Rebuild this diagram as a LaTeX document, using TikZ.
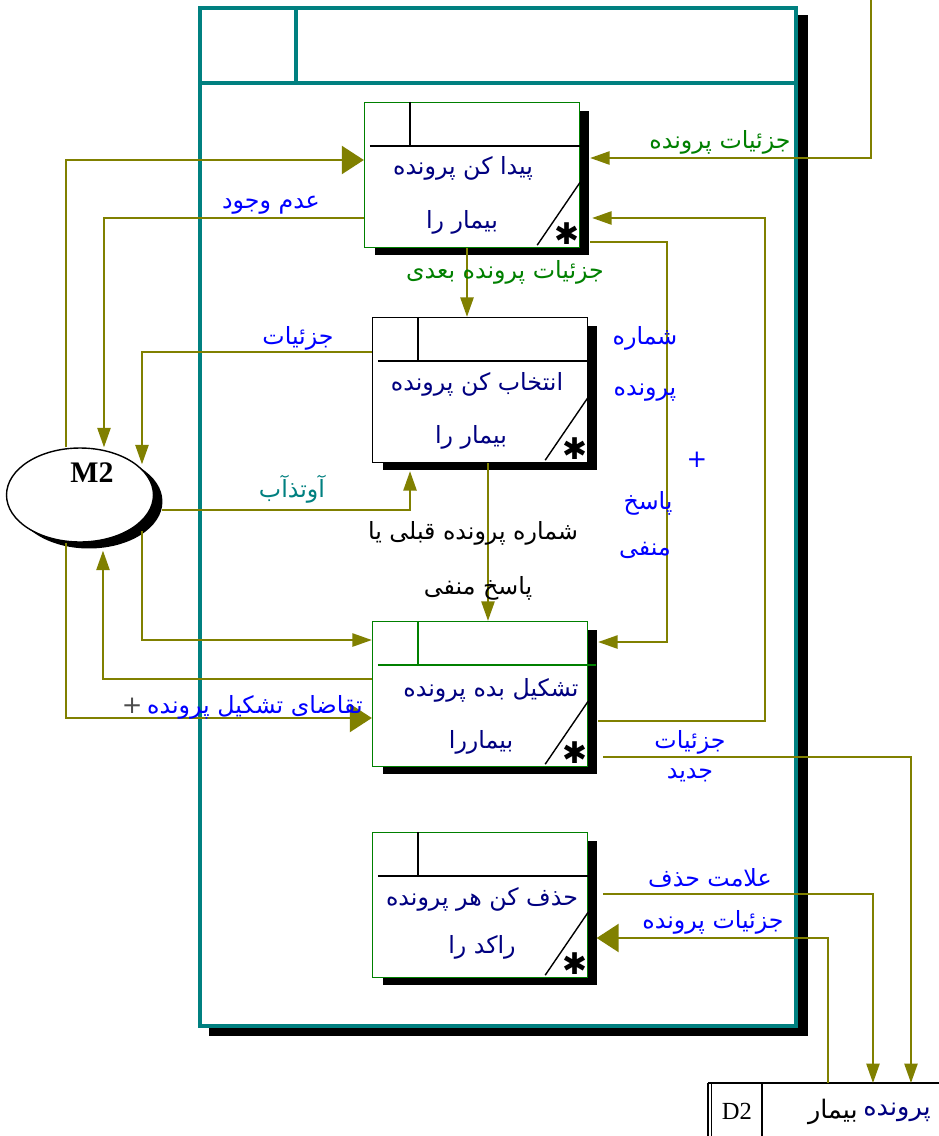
\documentclass[tikz,border=0pt]{standalone}
\usepackage{fontspec}
\setmainfont{Liberation Serif}
\newfontfamily\fa[Script=Arabic]{DejaVu Sans}
\newfontfamily\dv{DejaVu Sans}
\TeXXeTstate=1
\usetikzlibrary{arrows.meta,calc,shapes.geometric,shadows}
\definecolor{frameteal}{RGB}{0,128,128}
\definecolor{flowolive}{RGB}{128,128,0}
\definecolor{boxgreen}{RGB}{0,128,0}
\definecolor{txtnavy}{RGB}{0,0,128}
\definecolor{lblblue}{RGB}{0,0,255}
\newcommand\fatxt[1]{{\fa\beginR #1\endR}}
\tikzset{
  prc/.style={draw=boxgreen, fill=white, line width=0.8pt, minimum width=4.3cm, minimum height=2.9cm, inner sep=0pt,
    drop shadow={shadow xshift=.2cm, shadow yshift=-.16cm, fill=black, opacity=1}},
  flow/.style={draw=flowolive, line width=1pt},
  midtip/.style={-{Triangle[length=11pt,width=7.5pt]}},
  bigtip/.style={-{Triangle[length=12.5pt,width=16pt]}},
  boxtxt/.style={text=txtnavy, font=\fontsize{13.5}{13.5}\selectfont, inner sep=0pt},
  lbl/.style={text=lblblue, font=\fontsize{13.5}{13.5}\selectfont, inner sep=0pt},
  plus/.style={text=lblblue, font=\dv\fontsize{14}{14}\selectfont, inner sep=0pt},
  star/.style={inner sep=0pt, font=\dv\fontsize{17}{17}\selectfont}
}
\begin{document}
\begin{tikzpicture}[x=0.02cm, y=-0.02cm]
\useasboundingbox (0,0) rectangle (939,1136);
% frame of the diagram
\fill[black] (209,15) rectangle (808,1036);
\draw[frameteal, line width=2.8pt, fill=white] (200,8) rectangle (796,1026);
\draw[frameteal, line width=2.8pt] (200,83) -- (796,83);
\draw[frameteal, line width=2.8pt] (296,8) -- (296,83);

% processes
\node[prc] (b1) at (472,175) {};
\node[prc, draw=black] (b2) at (480,390) {};
\node[prc] (b3) at (480,694) {};
\node[prc] (b4) at (480,905) {};

\draw[line width=0.8pt] ($(b1.north west)+(6,44)$) -- ($(b1.north east)+(0,44)$);
\draw[line width=0.8pt] ($(b1.north west)+(46,0)$) -- ($(b1.north west)+(46,44)$);
\draw[line width=0.8pt] ($(b1.south east)+(-43,-3)$) -- ($(b1.south east)+(0,-66)$);
\node[star] (s1) at ($(b1.south east)+(-13,-15)$) {✱};

\draw[line width=0.8pt] ($(b2.north west)+(6,44)$) -- ($(b2.north east)+(0,44)$);
\draw[line width=0.8pt] ($(b2.north west)+(46,0)$) -- ($(b2.north west)+(46,44)$);
\draw[line width=0.8pt] ($(b2.south east)+(-43,-3)$) -- ($(b2.south east)+(0,-66)$);
\node[star] (s2) at ($(b2.south east)+(-13,-15)$) {✱};

\draw[boxgreen, line width=0.8pt] ($(b3.north west)+(6,44)$) -- ($(b3.north east)+(8,44)$);
\draw[boxgreen, line width=0.8pt] ($(b3.north west)+(46,0)$) -- ($(b3.north west)+(46,44)$);
\draw[line width=0.8pt] ($(b3.south east)+(-43,-3)$) -- ($(b3.south east)+(0,-66)$);
\node[star] (s3) at ($(b3.south east)+(-13,-15)$) {✱};

\draw[line width=0.8pt] ($(b4.north west)+(6,44)$) -- ($(b4.north east)+(0,44)$);
\draw[line width=0.8pt] ($(b4.north west)+(46,0)$) -- ($(b4.north west)+(46,44)$);
\draw[line width=0.8pt] ($(b4.south east)+(-43,-3)$) -- ($(b4.south east)+(0,-66)$);
\node[star] (s4) at ($(b4.south east)+(-13,-15)$) {✱};

\node[boxtxt] (t1a) at ($(b1.north)+(-9,67)$) {\fatxt{پیدا کن پرونده}};
\node[boxtxt] (t1b) at ($(b1.north)+(-10,121)$) {\fatxt{بیمار را}};
\node[boxtxt] (t2a) at ($(b2.north)+(-3,68)$) {\fatxt{انتخاب کن پرونده}};
\node[boxtxt] (t2b) at ($(b2.north)+(-9,121)$) {\fatxt{بیمار را}};
\node[boxtxt] (t3a) at ($(b3.north)+(11,70)$) {\fatxt{تشکیل بده پرونده}};
\node[boxtxt] (t3b) at ($(b3.north)+(1,122)$) {\fatxt{بیماررا}};
\node[boxtxt] (t4a) at ($(b4.north)+(2,68)$) {\fatxt{حذف کن هر پرونده}};
\node[boxtxt] (t4b) at ($(b4.north)+(2,116)$) {\fatxt{راکد را}};

% external entity
\node[ellipse, draw, line width=0.8pt, fill=white, minimum width=2.94cm, minimum height=1.88cm, inner sep=0pt,
  drop shadow={shadow xshift=.18cm, shadow yshift=-.13cm, fill=black, opacity=1}] (m2) at (80,495) {};
\node[font=\bfseries\fontsize{17}{17}\selectfont, inner sep=0pt] (m2t) at ($(m2)+(12,-22)$) {M2};

% data store
\coordinate (st) at (762,1083);
\draw[line width=0.8pt] (708,1083) -- (939,1083);
\draw[line width=0.8pt] (708,1083) -- (708,1140);
\draw[line width=0.8pt] (711.5,1083) -- (711.5,1140);
\draw[line width=0.8pt] (st) -- (762,1140);
\node[font=\fontsize{14}{14}\selectfont, inner sep=0pt] (d2) at (737,1111) {D2};
\node[text=txtnavy, font=\fontsize{14.5}{14.5}\selectfont, inner sep=0pt, anchor=east] (d2a) at (931,1112) {\fatxt{پرونده}};
\node[font=\fontsize{14.5}{14.5}\selectfont, inner sep=0pt, anchor=east] (d2b) at ($(d2a.west)+(-5,0)$) {\fatxt{بیمار}};

% flows
\coordinate (din) at (871,0);
\draw[flow, midtip] (din) |- ([xshift=.2cm,yshift=.34cm]b1.east);
\draw[flow, midtip] ([xshift=.2cm,yshift=-.54cm]b3.east) -- ++(167,0) |- ([xshift=.24cm,yshift=-.86cm]b1.east);
\draw[flow, midtip] ([xshift=.2cm,yshift=-1.34cm]b1.east) -- ++(77,0) |- ([xshift=.2cm,yshift=1.04cm]b3.east);
\draw[flow, bigtip] ([xshift=-.28cm]m2.north) |- ([yshift=.3cm]b1.west);
\draw[flow, midtip] ([yshift=-.86cm]b1.west) -| ([xshift=.48cm]m2.north);
\draw[flow, midtip] ([xshift=-.1cm]b1.south) -- ([xshift=-.26cm]b2.north);
\draw[flow, midtip] ([yshift=.76cm]b2.west) -| ([xshift=1.24cm,yshift=-.34cm]m2.north);
\draw[flow, midtip] ([xshift=.16cm,yshift=-.3cm]m2.east) -| ([xshift=-1.4cm,yshift=-.16cm]b2.south);
\draw[flow, midtip] ([xshift=.16cm]b2.south) -- ([xshift=.16cm]b3.north);
\draw[flow, midtip] ([xshift=1.24cm,yshift=.24cm]m2.south) |- ([yshift=1.08cm]b3.west);
\draw[flow, midtip] ([yshift=.3cm]b3.west) -| ([xshift=.46cm,yshift=-.16cm]m2.south);
\draw[flow, bigtip] ([xshift=-.28cm]m2.south) |- ([yshift=-.48cm]b3.west);
\draw[flow, midtip] ([xshift=.3cm,yshift=-1.26cm]b3.east) -| ([xshift=2.98cm]st);
\draw[flow, midtip] ([xshift=.3cm,yshift=.22cm]b4.east) -| ([xshift=2.22cm]st);
\draw[flow, bigtip] ([xshift=1.32cm]st) |- ([xshift=.17cm,yshift=-.66cm]b4.east);

% flow labels
\node[lbl, text=boxgreen] (l1) at (720,142) {\fatxt{جزئیات پرونده}};
\node[lbl] (l2) at (271,205) {\fatxt{عدم وجود}};
\node[lbl, text=boxgreen] (l3) at (505,272) {\fatxt{جزئیات پرونده بعدی}};
\node[lbl] (l4) at (298,338) {\fatxt{جزئیات}};
\node[lbl, text=frameteal] (l5) at (292,489) {\fatxt{آوتذآب}};
\node[lbl, text=black] (l6) at (473,533) {\fatxt{شماره پرونده قبلی یا}};
\node[lbl, text=black] (l7) at (478,588) {\fatxt{پاسخ منفی}};
\node[lbl, anchor=east] (l8) at (363,707) {\fatxt{تقاضای تشکیل پرونده}};
\node[plus, text=black!70, anchor=east] (l8p) at ($(l8.west)+(-4,-1)$) {+};
\node[lbl] (l9a) at (645,338) {\fatxt{شماره}};
\node[lbl] (l9b) at (645,393) {\fatxt{پرونده}};
\node[plus] (l9c) at (697,460) {+};
\node[lbl] (l9d) at (648,503) {\fatxt{پاسخ}};
\node[lbl] (l9e) at (645,550) {\fatxt{منفی}};
\node[lbl] (l10a) at (690,742) {\fatxt{جزئیات}};
\node[lbl] (l10b) at (690,775) {\fatxt{جدید}};
\node[lbl] (l11) at (710,878) {\fatxt{علامت حذف}};
\node[lbl] (l12) at (713,922) {\fatxt{جزئیات پرونده}};
\end{tikzpicture}
\end{document}
